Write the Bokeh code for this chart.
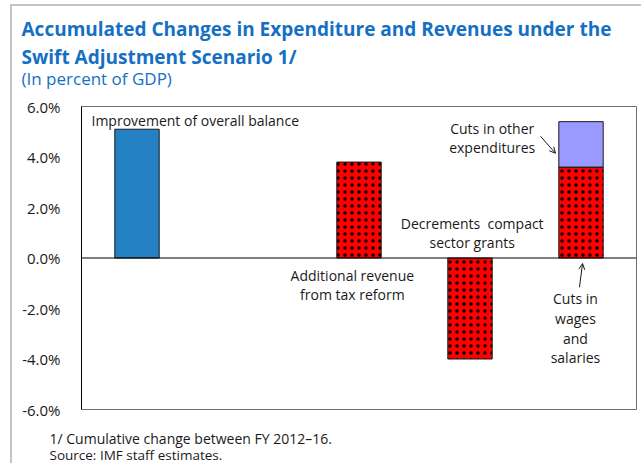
from bokeh.plotting import figure
from bokeh.models import (FactorRange, Range1d, FixedTicker, PrintfTickFormatter, Span,
                          Label, Arrow, OpenHead, Title, ColumnDataSource)
from bokeh.embed import file_html
from bokeh.resources import INLINE

# ---------------- data ----------------
categories = ["Overall balance", "gap", "Tax reform revenue", "Compact sector grants", "Expenditure cuts"]
balance = [5.1, None, None, None, None]
tax_revenue = [None, None, 3.8, None, None]
grants = [None, None, None, -4.0, None]
wages = [None, None, None, None, 3.6]
other_exp = [None, None, None, None, 1.8]
y_ticks = [-6, -4, -2, 0, 2, 4, 6]

title_l1 = "Accumulated Changes in Expenditure and Revenues under the"
title_l2 = "Swift Adjustment Scenario 1/"
subtitle = "(In percent of GDP)"
foot1 = "1/  Cumulative change between FY 2012\u201316."
foot2 = "Source: IMF staff estimates."

FONT = "Open Sans"
BLUE_T = "#1570C4"
INK = "#1a1a1a"

p = figure(width=631, height=459, x_range=FactorRange(*categories), y_range=Range1d(-6, 6),
           x_axis_location=None, output_backend="svg", toolbar_location=None,
           min_border_left=69, min_border_right=7, min_border_top=99, min_border_bottom=55)
p.styles = {"margin-left": "10px", "margin-top": "4px",
            "border-left": "2px solid #c4c4c4", "border-top": "2px solid #c4c4c4"}
p.xgrid.visible = False
p.ygrid.visible = False
p.outline_line_color = "#6e6e6e"
p.outline_line_width = 1
p.background_fill_color = "white"
p.border_fill_color = "white"

ya = p.yaxis[0]
ya.ticker = FixedTicker(ticks=y_ticks)
ya.formatter = PrintfTickFormatter(format="%.1f%%")
ya.major_tick_out = 0
ya.major_tick_in = 0
ya.minor_tick_out = 0
ya.minor_tick_in = 0
ya.axis_line_color = "black"
ya.major_label_standoff = 21
ya.major_label_text_font = FONT
ya.major_label_text_font_size = "15px"
ya.major_label_text_color = INK

nan = float("nan")
def num(v):
    return [nan if x is None else x for x in v]

src = ColumnDataSource(dict(cat=categories, balance=num(balance), tax=num(tax_revenue),
                            grants=num(grants), wages=num(wages),
                            other_bottom=num(wages),
                            other_top=[nan if (w is None or o is None) else w + o
                                       for w, o in zip(wages, other_exp)]))

W = 0.4
p.vbar(x="cat", top="balance", bottom=0, width=W, source=src,
       fill_color="#2280C3", line_color=INK, line_width=1)
for col in ["tax", "grants", "wages"]:
    p.vbar(x="cat", top=col, bottom=0, width=W, source=src,
           fill_color="#FF0000", line_color=INK, line_width=1,
           hatch_pattern="dot", hatch_color="black", hatch_scale=7, hatch_weight=1.2)
p.vbar(x="cat", top="other_top", bottom="other_bottom", width=W, source=src,
       fill_color="#9999FF", line_color=INK, line_width=1)

p.add_layout(Span(location=0, dimension="width", line_color="black", line_width=1))

def lab(x, y, text, align="left", size="14px"):
    p.add_layout(Label(x=x, y=y, text=text, text_align=align, text_baseline="middle",
                       text_font=FONT, text_font_size=size, text_color=INK))

# in-plot annotations
lab(0.09, 5.45, "Improvement of overall balance")
lab(2.44, -0.69, "Additional revenue", align="center")
lab(2.44, -1.44, "from tax reform", align="center")
lab(3.52, 1.36, "Decrements\u00a0\u00a0compact", align="center")
lab(3.52, 0.61, "sector grants", align="center")
lab(3.70, 5.13, "Cuts in other", align="center")
lab(3.70, 4.39, "expenditures", align="center")
for yy, t in zip([-1.59, -2.38, -3.17, -3.95], ["Cuts in", "wages", "and", "salaries"]):
    lab(4.45, yy, t, align="center")

p.add_layout(Arrow(end=OpenHead(size=6, line_width=1, line_color=INK),
                   x_start=4.135, y_start=4.82, x_end=4.27, y_end=4.15,
                   line_color=INK, line_width=1))
p.add_layout(Arrow(end=OpenHead(size=6, line_width=1, line_color=INK),
                   x_start=4.486, y_start=-1.16, x_end=4.514, y_end=-0.22,
                   line_color=INK, line_width=1))

# titles (above: first added sits closest to the frame)
p.add_layout(Title(text=subtitle, align="left", offset=-60, standoff=33.4,
                   text_font=FONT, text_font_size="17px", text_font_style="normal",
                   text_color=BLUE_T), "above")
p.add_layout(Title(text=title_l1, align="left", offset=-60, standoff=13.9,
                   text_font=FONT, text_font_size="19px", text_font_style="bold",
                   text_color=BLUE_T), "above")
p.add_layout(Title(text=title_l2, align="left", offset=-60, standoff=-126,
                   text_font=FONT, text_font_size="19px", text_font_style="bold",
                   text_color=BLUE_T), "above")

# footnotes (below: first added sits closest to the frame)
p.add_layout(Title(text=foot1, align="left", offset=-32, standoff=34.5,
                   text_font=FONT, text_font_size="14px", text_font_style="normal",
                   text_color=INK), "below")
p.add_layout(Title(text=foot2, align="left", offset=-32, standoff=-39,
                   vertical_align="top",
                   text_font=FONT, text_font_size="13.5px", text_font_style="normal",
                   text_color=INK), "below")

open("out.html", "w").write(file_html(p, INLINE))
